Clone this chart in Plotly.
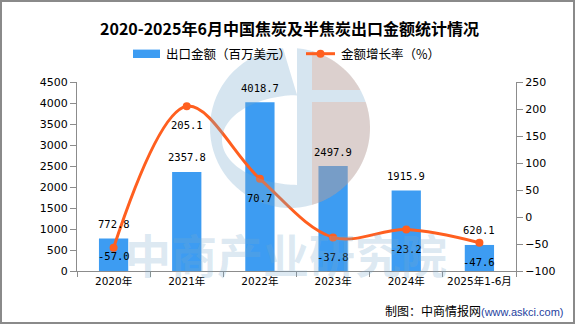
import numpy as np
import plotly.graph_objects as go

# ---- data ----
years = ["2020年", "2021年", "2022年", "2023年", "2024年", "2025年1-6月"]
export_value = [772.8, 2357.8, 4018.7, 2497.9, 1915.9, 620.1]      # 百万美元
growth_rate = [-57.0, 205.1, 70.7, -37.8, -23.2, -47.6]            # %

title_text = "2020-2025年6月中国焦炭及半焦炭出口金额统计情况"
bar_name = "出口金额（百万美元）"
line_name = "金额增长率（%）"
source_text = "制图：中商情报网"
source_url = "(www.askci.com)"
watermark_text = "中商产业研究院"

# ---- styling ----
W, H = 576, 324
L, R, T, B = 77, 516, 82, 271          # plot area in pixels
BAR_COLOR = "#3D9CF2"
LINE_COLOR = "#FF5F1F"
AXIS_COLOR = "#8C8C8C"
CJK = "Noto Sans CJK SC"
TICK_FONT = dict(family="DejaVu Sans, " + CJK, size=11, color="black")
LABEL_FONT = dict(family="DejaVu Sans Mono, " + CJK, size=10.5, color="black")
line_label_shift = [-8, -19, -19, -20, -19, -19]


def px(x):
    return (x - L) / (R - L)


def py(y):
    return (B - y) / (B - T)


def path_from(points):
    pts = [f"{px(x):.5f},{py(y):.5f}" for x, y in points]
    return "M" + " L".join(pts) + " Z"


fig = go.Figure()

fig.add_trace(go.Bar(
    x=years, y=export_value, name=bar_name,
    marker=dict(color=BAR_COLOR, line=dict(width=0)),
    width=0.4, yaxis="y", showlegend=False,
))
fig.add_trace(go.Scatter(
    x=years, y=growth_rate, name=line_name, yaxis="y2",
    mode="lines+markers",
    line=dict(color=LINE_COLOR, width=3, shape="spline", smoothing=1.0),
    marker=dict(color=LINE_COLOR, size=8),
    showlegend=False,
))

annotations = []
for yr, v in zip(years, export_value):
    annotations.append(dict(
        x=yr, y=v, xref="x", yref="y", text=f"{v:.1f}", showarrow=False,
        yshift=14.5, yanchor="middle", font=LABEL_FONT,
    ))
for yr, v, dy in zip(years, growth_rate, line_label_shift):
    annotations.append(dict(
        x=yr, y=v, xref="x", yref="y2", text=f"{v:.1f}", showarrow=False,
        yshift=dy, yanchor="middle", font=LABEL_FONT,
    ))

# title
annotations.append(dict(
    x=px(289), y=py(27.6), xref="paper", yref="paper", text=f"<b>{title_text}</b>",
    showarrow=False, xanchor="center", yanchor="middle",
    font=dict(family=CJK, size=16, color="black"),
))

# legend
leg_y = 53.7
annotations.append(dict(
    x=px(164), y=py(leg_y), xref="paper", yref="paper", text=bar_name,
    showarrow=False, xanchor="left", yanchor="middle",
    font=dict(family=CJK, size=12.5, color="black"),
))
annotations.append(dict(
    x=px(338.5), y=py(leg_y), xref="paper", yref="paper", text=line_name,
    showarrow=False, xanchor="left", yanchor="middle",
    font=dict(family=CJK, size=12.5, color="black"),
))

# source line
annotations.append(dict(
    x=px(566), y=py(310), xref="paper", yref="paper",
    text=source_text + f"<span style='color:#1F3FA0;font-size:11px;font-family:Liberation Sans'>{source_url}</span>",
    showarrow=False, xanchor="right", yanchor="middle",
    font=dict(family=CJK, size=12, color="black"),
))

# watermark text
annotations.append(dict(
    x=px(286), y=py(253), xref="paper", yref="paper", text=watermark_text,
    showarrow=False, xanchor="center", yanchor="middle",
    font=dict(family=CJK, size=46, color="rgba(120,170,205,0.26)", weight=700),
))

shapes = []

# watermark logo: blue "C" and pink half disc
cx, cy, rad = 290, 128, 80
top_a = np.arcsin((297 - cx) / rad)
ang = np.linspace(top_a, 2 * np.pi - top_a, 80)   # measured from the top, sweeping through the left side
outer = [(cx - rad * np.sin(a), cy - rad * np.cos(a)) for a in ang]
ecx, ecy, erx, ery = 300, 140, 78, 45
t0 = np.arccos((297 - ecx) / erx)
et = np.linspace(t0, 2 * np.pi - t0, 80)
inner = [(ecx + erx * np.cos(t), ecy + ery * np.sin(t)) for t in et]
blue_pts = outer + inner
shapes.append(dict(type="path", xref="paper", yref="paper", path=path_from(blue_pts),
                   fillcolor="rgba(120,170,205,0.30)", line=dict(width=0), layer="above"))

PINK = "rgba(240,150,110,0.26)"
a1 = np.arcsin((312 - cx) / rad)
a2 = np.arccos((cy - 90) / rad)
up = [(312, 90)] + [(cx + rad * np.sin(a), cy - rad * np.cos(a)) for a in np.linspace(a2, a1, 40)]
shapes.append(dict(type="path", xref="paper", yref="paper", path=path_from(up),
                   fillcolor=PINK, line=dict(width=0), layer="above"))
a3 = np.arccos((cy - 102) / rad)
a4 = np.pi - a1
low = [(312, 102)] + [(cx + rad * np.sin(a), cy - rad * np.cos(a)) for a in np.linspace(a3, a4, 60)]
shapes.append(dict(type="path", xref="paper", yref="paper", path=path_from(low),
                   fillcolor=PINK, line=dict(width=0), layer="above"))

# legend swatches
shapes.append(dict(type="rect", xref="paper", yref="paper",
                   x0=px(133), x1=px(160), y0=py(49.6), y1=py(58),
                   fillcolor=BAR_COLOR, line=dict(width=0)))
shapes.append(dict(type="line", xref="paper", yref="paper",
                   x0=px(306), x1=px(335), y0=py(leg_y), y1=py(leg_y),
                   line=dict(color=LINE_COLOR, width=3)))
shapes.append(dict(type="circle", xref="paper", yref="paper",
                   x0=px(316.5), x1=px(324.5), y0=py(leg_y - 4), y1=py(leg_y + 4),
                   fillcolor=LINE_COLOR, line=dict(width=0)))

# outer frame
shapes.append(dict(type="rect", xref="paper", yref="paper",
                   x0=px(1), x1=px(574), y0=py(1), y1=py(323),
                   fillcolor="rgba(0,0,0,0)", line=dict(color="#8A8A8A", width=2)))

axis_common = dict(
    showline=True, linecolor=AXIS_COLOR, linewidth=1,
    ticks="outside", tickcolor=AXIS_COLOR, ticklen=6, tickwidth=1,
    showgrid=False, zeroline=False, tickfont=TICK_FONT, automargin=False,
)

fig.update_layout(
    width=W, height=H,
    margin=dict(l=L, r=W - R, t=T, b=H - B, pad=0, autoexpand=False),
    paper_bgcolor="white", plot_bgcolor="white",
    showlegend=False,
    bargap=0.6,
    xaxis=dict(
        type="category", range=[-0.5, 5.5], showline=True, linecolor=AXIS_COLOR,
        linewidth=1, ticks="outside", tickson="boundaries", ticklen=5,
        tickcolor=AXIS_COLOR, showgrid=False, zeroline=False, tickangle=0,
        automargin=False,
        tickfont=dict(family="DejaVu Sans, " + CJK, size=10.5, color="black"),
    ),
    yaxis=dict(range=[0, 4500], dtick=500, **axis_common),
    yaxis2=dict(range=[-100, 250], dtick=50, overlaying="y", side="right", **axis_common),
    annotations=annotations,
    shapes=shapes,
)

fig.write_html("out.html")
